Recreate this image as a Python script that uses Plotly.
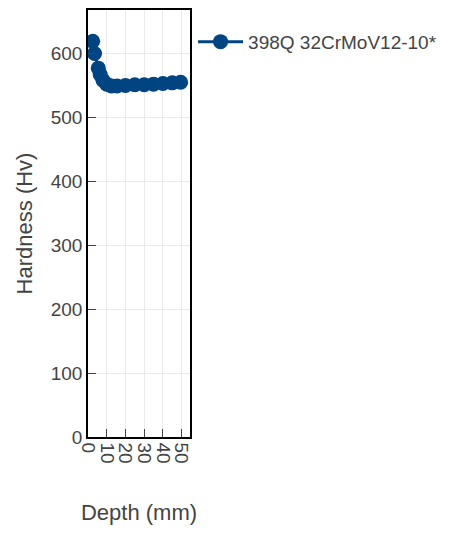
import plotly.graph_objects as go

# Hardness profile of 398Q 32CrMoV12-10* vs. depth
depth_mm = [2.5, 3.5, 5.5, 6.5, 8, 10, 12.5, 15.5, 20, 25, 30, 35, 40, 45, 49.5]
hardness_hv = [619, 600, 577, 567, 558, 552, 549, 549, 550, 551, 551, 552, 553, 554, 555]
series_name = "398Q 32CrMoV12-10*"
x_ticks = [0, 10, 20, 30, 40, 50]
y_ticks = [0, 100, 200, 300, 400, 500, 600]

blue = "#004481"
font_family = "Arial, Liberation Sans, sans-serif"

fig = go.Figure()
fig.add_trace(go.Scatter(
    x=depth_mm, y=hardness_hv, mode="lines+markers", name=series_name,
    line=dict(color=blue, width=3),
    marker=dict(color=blue, size=15),
))

axis_common = dict(
    showline=True, linecolor="black", linewidth=1.5, mirror=True,
    showgrid=True, gridcolor="#ebebeb", gridwidth=1,
    ticks="inside", ticklen=8, tickcolor="#444", zeroline=False,
    tickfont=dict(family=font_family, size=19, color="#444"),
    title_font=dict(family=font_family, size=22, color="#444"),
)

fig.update_layout(
    width=451, height=536,
    margin=dict(l=88, r=261, t=8, b=99),
    plot_bgcolor="white", paper_bgcolor="white",
    showlegend=True,
    legend=dict(x=1.03, y=0.97, xanchor="left", yanchor="top", itemwidth=45,
                font=dict(family=font_family, size=19, color="#444"),
                bgcolor="rgba(0,0,0,0)"),
    xaxis=dict(axis_common, range=[0, 54.5], tickvals=x_ticks, tickangle=90,
               title=dict(text="Depth (mm)", standoff=42)),
    yaxis=dict(axis_common, range=[0, 668], tickvals=y_ticks,
               title=dict(text="Hardness (Hv)", standoff=12)),
)

fig.write_html("out.html")
